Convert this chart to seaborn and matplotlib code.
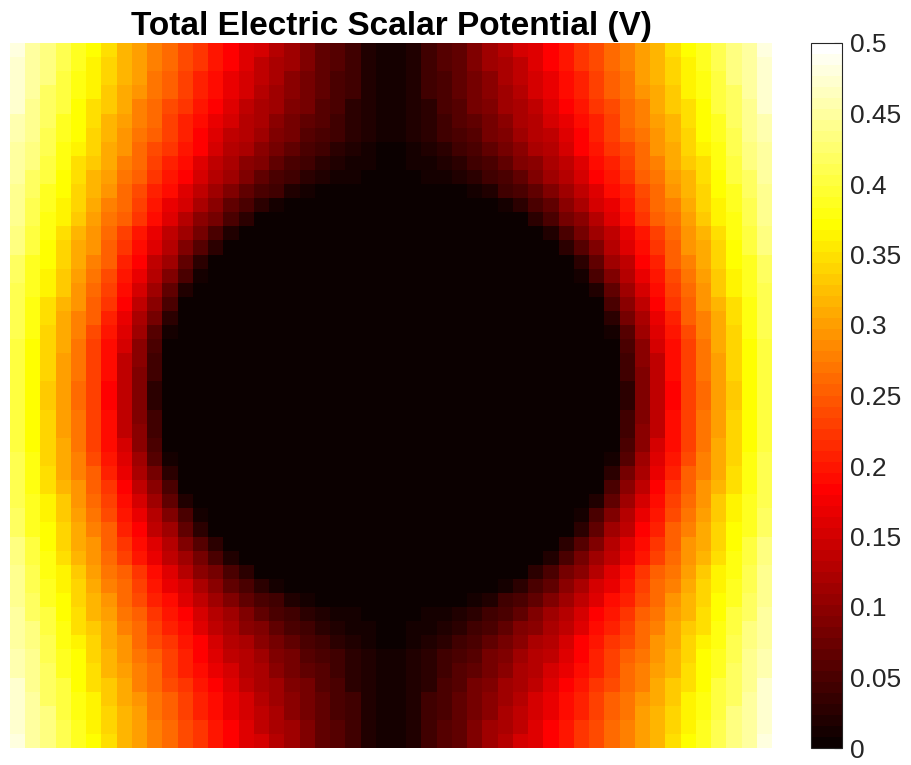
import numpy as np
import matplotlib
matplotlib.use("Agg")
import matplotlib.pyplot as plt
from matplotlib.colors import ListedColormap
import seaborn as sns

# Potential magnitude (V) on the upper-left quadrant of the grid.
# Each row runs from the left edge to the centre line; rows go from the top edge down to the middle.
v_y49 = [0.48, 0.45, 0.43, 0.41, 0.39, 0.37, 0.35, 0.32, 0.30, 0.28, 0.26, 0.24, 0.22, 0.20, 0.18, 0.16, 0.15, 0.13, 0.11, 0.09, 0.07, 0.06, 0.04, 0.02, 0.01]
v_y47 = [0.47, 0.45, 0.43, 0.41, 0.39, 0.36, 0.34, 0.32, 0.30, 0.28, 0.26, 0.24, 0.22, 0.20, 0.18, 0.16, 0.14, 0.12, 0.11, 0.09, 0.07, 0.06, 0.04, 0.02, 0.01]
v_y45 = [0.47, 0.45, 0.43, 0.40, 0.38, 0.36, 0.34, 0.32, 0.30, 0.27, 0.25, 0.23, 0.21, 0.19, 0.17, 0.15, 0.14, 0.12, 0.10, 0.08, 0.07, 0.05, 0.04, 0.02, 0.01]
v_y43 = [0.47, 0.45, 0.42, 0.40, 0.38, 0.36, 0.33, 0.31, 0.29, 0.27, 0.25, 0.23, 0.21, 0.19, 0.17, 0.15, 0.13, 0.11, 0.10, 0.08, 0.07, 0.05, 0.04, 0.02, 0.01]
v_y41 = [0.47, 0.44, 0.42, 0.40, 0.37, 0.35, 0.33, 0.31, 0.28, 0.26, 0.24, 0.22, 0.20, 0.18, 0.16, 0.14, 0.12, 0.11, 0.09, 0.08, 0.06, 0.05, 0.03, 0.02, 0.01]
v_y39 = [0.46, 0.44, 0.42, 0.39, 0.37, 0.35, 0.32, 0.30, 0.28, 0.26, 0.23, 0.21, 0.19, 0.17, 0.15, 0.13, 0.12, 0.10, 0.08, 0.07, 0.06, 0.04, 0.03, 0.02, 0.01]
v_y37 = [0.46, 0.44, 0.41, 0.39, 0.37, 0.34, 0.32, 0.29, 0.27, 0.25, 0.23, 0.21, 0.18, 0.16, 0.14, 0.13, 0.11, 0.09, 0.08, 0.06, 0.05, 0.04, 0.03, 0.02, 0.01]
v_y35 = [0.45, 0.43, 0.41, 0.38, 0.36, 0.34, 0.31, 0.29, 0.26, 0.24, 0.22, 0.20, 0.18, 0.15, 0.13, 0.12, 0.10, 0.08, 0.07, 0.05, 0.04, 0.03, 0.02, 0.01, 0.00]
v_y33 = [0.45, 0.43, 0.40, 0.38, 0.35, 0.33, 0.31, 0.28, 0.26, 0.23, 0.21, 0.19, 0.16, 0.14, 0.12, 0.10, 0.09, 0.07, 0.05, 0.04, 0.03, 0.02, 0.01, 0.01, 0.00]
v_y31 = [0.45, 0.42, 0.40, 0.37, 0.35, 0.32, 0.30, 0.27, 0.25, 0.22, 0.20, 0.18, 0.15, 0.13, 0.11, 0.09, 0.07, 0.05, 0.04, 0.03, 0.02, 0.01, 0.01, 0.00, 0.00]
v_y29 = [0.44, 0.42, 0.39, 0.37, 0.34, 0.32, 0.29, 0.26, 0.24, 0.21, 0.19, 0.16, 0.14, 0.11, 0.09, 0.07, 0.05, 0.04, 0.02, 0.01, 0.00, 0.00, 0.00, 0.00, 0.00]
v_y27 = [0.44, 0.41, 0.39, 0.36, 0.34, 0.31, 0.28, 0.26, 0.23, 0.20, 0.17, 0.15, 0.12, 0.10, 0.07, 0.05, 0.03, 0.01, 0.00, 0.00, 0.00, 0.00, 0.00, 0.00, 0.00]
v_y25 = [0.44, 0.41, 0.38, 0.36, 0.33, 0.30, 0.27, 0.25, 0.22, 0.19, 0.16, 0.13, 0.10, 0.08, 0.05, 0.03, 0.00, 0.00, 0.00, 0.00, 0.00, 0.00, 0.00, 0.00, 0.00]
v_y23 = [0.43, 0.40, 0.38, 0.35, 0.32, 0.29, 0.26, 0.23, 0.20, 0.17, 0.14, 0.11, 0.08, 0.05, 0.02, 0.00, 0.00, 0.00, 0.00, 0.00, 0.00, 0.00, 0.00, 0.00, 0.00]
v_y21 = [0.43, 0.40, 0.37, 0.34, 0.31, 0.29, 0.25, 0.22, 0.19, 0.16, 0.13, 0.09, 0.06, 0.03, 0.00, 0.00, 0.00, 0.00, 0.00, 0.00, 0.00, 0.00, 0.00, 0.00, 0.00]
v_y19 = [0.42, 0.39, 0.37, 0.34, 0.31, 0.28, 0.25, 0.21, 0.18, 0.14, 0.11, 0.07, 0.03, 0.00, 0.00, 0.00, 0.00, 0.00, 0.00, 0.00, 0.00, 0.00, 0.00, 0.00, 0.00]
v_y17 = [0.42, 0.39, 0.36, 0.33, 0.30, 0.27, 0.24, 0.20, 0.17, 0.13, 0.09, 0.05, 0.01, 0.00, 0.00, 0.00, 0.00, 0.00, 0.00, 0.00, 0.00, 0.00, 0.00, 0.00, 0.00]
v_y15 = [0.41, 0.39, 0.36, 0.33, 0.29, 0.26, 0.23, 0.19, 0.15, 0.11, 0.07, 0.02, 0.00, 0.00, 0.00, 0.00, 0.00, 0.00, 0.00, 0.00, 0.00, 0.00, 0.00, 0.00, 0.00]
v_y13 = [0.41, 0.38, 0.35, 0.32, 0.29, 0.25, 0.22, 0.18, 0.14, 0.10, 0.05, 0.00, 0.00, 0.00, 0.00, 0.00, 0.00, 0.00, 0.00, 0.00, 0.00, 0.00, 0.00, 0.00, 0.00]
v_y11 = [0.41, 0.38, 0.35, 0.31, 0.28, 0.25, 0.21, 0.17, 0.12, 0.08, 0.03, 0.00, 0.00, 0.00, 0.00, 0.00, 0.00, 0.00, 0.00, 0.00, 0.00, 0.00, 0.00, 0.00, 0.00]
v_y09 = [0.41, 0.38, 0.34, 0.31, 0.28, 0.24, 0.20, 0.16, 0.11, 0.06, 0.01, 0.00, 0.00, 0.00, 0.00, 0.00, 0.00, 0.00, 0.00, 0.00, 0.00, 0.00, 0.00, 0.00, 0.00]
v_y07 = [0.40, 0.37, 0.34, 0.31, 0.27, 0.23, 0.19, 0.15, 0.10, 0.05, 0.00, 0.00, 0.00, 0.00, 0.00, 0.00, 0.00, 0.00, 0.00, 0.00, 0.00, 0.00, 0.00, 0.00, 0.00]
v_y05 = [0.40, 0.37, 0.34, 0.30, 0.27, 0.23, 0.19, 0.14, 0.10, 0.04, 0.00, 0.00, 0.00, 0.00, 0.00, 0.00, 0.00, 0.00, 0.00, 0.00, 0.00, 0.00, 0.00, 0.00, 0.00]
v_y03 = [0.40, 0.37, 0.34, 0.30, 0.27, 0.23, 0.19, 0.14, 0.09, 0.04, 0.00, 0.00, 0.00, 0.00, 0.00, 0.00, 0.00, 0.00, 0.00, 0.00, 0.00, 0.00, 0.00, 0.00, 0.00]
v_y01 = [0.40, 0.37, 0.33, 0.30, 0.26, 0.23, 0.18, 0.14, 0.09, 0.03, 0.00, 0.00, 0.00, 0.00, 0.00, 0.00, 0.00, 0.00, 0.00, 0.00, 0.00, 0.00, 0.00, 0.00, 0.00]

quadrant_rows = [v_y49, v_y47, v_y45, v_y43, v_y41, v_y39, v_y37, v_y35, v_y33,
                 v_y31, v_y29, v_y27, v_y25, v_y23, v_y21, v_y19, v_y17, v_y15,
                 v_y13, v_y11, v_y09, v_y07, v_y05, v_y03, v_y01]

cbar_ticks = [0, 0.05, 0.1, 0.15, 0.2, 0.25, 0.3, 0.35, 0.4, 0.45, 0.5]
cbar_labels = ["0", "0.05", "0.1", "0.15", "0.2", "0.25", "0.3", "0.35", "0.4", "0.45", "0.5"]
title = "Total Electric Scalar Potential (V)"

# The field is mirror-symmetric about both centre lines.
upper_half = [row + row[::-1] for row in quadrant_rows]
field = np.array(upper_half + upper_half[::-1])

# 64-step "hot" colour map: black -> red -> yellow -> white
n = 64
k = 24
red = np.concatenate([np.arange(1, k + 1) / k, np.ones(n - k)])
green = np.concatenate([np.zeros(k), np.arange(1, k + 1) / k, np.ones(n - 2 * k)])
blue = np.concatenate([np.zeros(2 * k), np.arange(1, n - 2 * k + 1) / (n - 2 * k)])
hot64 = ListedColormap(np.column_stack([red, green, blue]))

sns.set_theme(style="white")
plt.rcParams["font.family"] = ["Liberation Sans", "DejaVu Sans"]

W, H = 912, 765
fig = plt.figure(figsize=(W / 100, H / 100), dpi=100)
ax = fig.add_axes([10 / W, 1 - 748 / H, 762 / W, 705 / H])
cax = fig.add_axes([811 / W, 1 - 748 / H, 31 / W, 705 / H])

sns.heatmap(field, ax=ax, cmap=hot64, vmin=0, vmax=0.5, cbar_ax=cax,
            xticklabels=False, yticklabels=False)
ax.set_xticks([])
ax.set_yticks([])
for s in ax.spines.values():
    s.set_visible(False)

ax.set_title(title, fontsize=24, fontweight="bold", color="black", pad=6)

cbar = ax.collections[0].colorbar
cbar.set_ticks(cbar_ticks)
cbar.set_ticklabels(cbar_labels)
cbar.outline.set_visible(True)
cbar.outline.set_linewidth(0.8)
cbar.outline.set_edgecolor("#262626")
cax.tick_params(axis="y", direction="in", length=5.5, width=0.8, colors="#262626",
                labelsize=19, pad=6, right=True, left=False)

fig.savefig("out.png", dpi=100)
